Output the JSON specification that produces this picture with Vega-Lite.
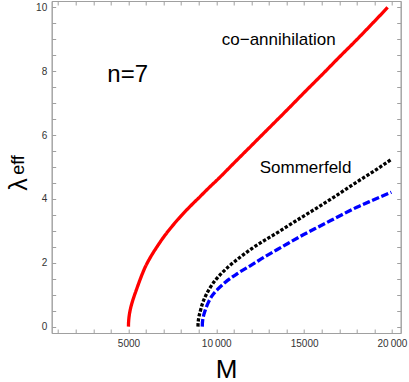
{
  "$schema": "https://vega.github.io/schema/vega-lite/v6.json",
  "width": 349,
  "height": 332,
  "autosize": {"type": "none"},
  "padding": {"left": 51.7, "top": 1, "right": 8.3, "bottom": 49},
  "config": {
    "font": "Liberation Sans",
    "view": {"stroke": "#a0a0a0", "strokeWidth": 1},
    "axis": {
      "domainColor": "#a0a0a0",
      "tickColor": "#a0a0a0",
      "labelColor": "#333333",
      "labelFont": "Liberation Sans",
      "labelFontSize": 10,
      "titleFont": "Liberation Sans",
      "titleColor": "#000000",
      "titleFontWeight": "normal",
      "grid": false,
      "labelOverlap": false,
      "labelFlush": false,
      "tickSize": -4
    }
  },
  "datasets": {
    "curves": [
      {"series": "co", "M": 5000, "lam": 0},
      {"series": "co", "M": 5003, "lam": 0.09},
      {"series": "co", "M": 5010, "lam": 0.16},
      {"series": "co", "M": 5025, "lam": 0.26},
      {"series": "co", "M": 5050, "lam": 0.37},
      {"series": "co", "M": 5085, "lam": 0.48},
      {"series": "co", "M": 5120, "lam": 0.57},
      {"series": "co", "M": 5200, "lam": 0.74},
      {"series": "co", "M": 5285, "lam": 0.89},
      {"series": "co", "M": 5450, "lam": 1.15},
      {"series": "co", "M": 5667, "lam": 1.48},
      {"series": "co", "M": 5950, "lam": 1.86},
      {"series": "co", "M": 6238, "lam": 2.16},
      {"series": "co", "M": 6600, "lam": 2.48},
      {"series": "co", "M": 6997, "lam": 2.8},
      {"series": "co", "M": 7450, "lam": 3.12},
      {"series": "co", "M": 7949, "lam": 3.44},
      {"series": "co", "M": 8500, "lam": 3.76},
      {"series": "co", "M": 9090, "lam": 4.08},
      {"series": "co", "M": 9564, "lam": 4.34},
      {"series": "co", "M": 10134, "lam": 4.64},
      {"series": "co", "M": 11000, "lam": 5.12},
      {"series": "co", "M": 12000, "lam": 5.67},
      {"series": "co", "M": 13000, "lam": 6.22},
      {"series": "co", "M": 14000, "lam": 6.77},
      {"series": "co", "M": 15000, "lam": 7.33},
      {"series": "co", "M": 16000, "lam": 7.88},
      {"series": "co", "M": 17000, "lam": 8.44},
      {"series": "co", "M": 18000, "lam": 8.99},
      {"series": "co", "M": 19000, "lam": 9.56},
      {"series": "co", "M": 19758, "lam": 10.0},
      {"series": "somA", "M": 8959, "lam": 0},
      {"series": "somA", "M": 8962, "lam": 0.08},
      {"series": "somA", "M": 8975, "lam": 0.17},
      {"series": "somA", "M": 9010, "lam": 0.3},
      {"series": "somA", "M": 9090, "lam": 0.48},
      {"series": "somA", "M": 9200, "lam": 0.7},
      {"series": "somA", "M": 9375, "lam": 0.94},
      {"series": "somA", "M": 9650, "lam": 1.22},
      {"series": "somA", "M": 9946, "lam": 1.45},
      {"series": "somA", "M": 10300, "lam": 1.67},
      {"series": "somA", "M": 10704, "lam": 1.88},
      {"series": "somA", "M": 11300, "lam": 2.15},
      {"series": "somA", "M": 12039, "lam": 2.45},
      {"series": "somA", "M": 12800, "lam": 2.72},
      {"series": "somA", "M": 13556, "lam": 2.97},
      {"series": "somA", "M": 14500, "lam": 3.3},
      {"series": "somA", "M": 15500, "lam": 3.64},
      {"series": "somA", "M": 16791, "lam": 4.09},
      {"series": "somA", "M": 18000, "lam": 4.53},
      {"series": "somA", "M": 19000, "lam": 4.88},
      {"series": "somA", "M": 19968, "lam": 5.24},
      {"series": "somB", "M": 9204, "lam": 0},
      {"series": "somB", "M": 9207, "lam": 0.08},
      {"series": "somB", "M": 9220, "lam": 0.17},
      {"series": "somB", "M": 9260, "lam": 0.3},
      {"series": "somB", "M": 9375, "lam": 0.52},
      {"series": "somB", "M": 9550, "lam": 0.76},
      {"series": "somB", "M": 9757, "lam": 0.96},
      {"series": "somB", "M": 10100, "lam": 1.18},
      {"series": "somB", "M": 10516, "lam": 1.39},
      {"series": "somB", "M": 11200, "lam": 1.66},
      {"series": "somB", "M": 12039, "lam": 1.94},
      {"series": "somB", "M": 12800, "lam": 2.2},
      {"series": "somB", "M": 13750, "lam": 2.5},
      {"series": "somB", "M": 14800, "lam": 2.83},
      {"series": "somB", "M": 15800, "lam": 3.12},
      {"series": "somB", "M": 16791, "lam": 3.4},
      {"series": "somB", "M": 18000, "lam": 3.74},
      {"series": "somB", "M": 19000, "lam": 3.98},
      {"series": "somB", "M": 19968, "lam": 4.21}
    ],
    "labels": [
      {"text": "n=7", "M": 4954, "lam": 7.67},
      {"text": "co−annihilation", "M": 13556, "lam": 8.82},
      {"text": "Sommerfeld", "M": 15080, "lam": 4.8}
    ],
    "frame": [
      {"M": 630, "lam": -0.2},
      {"M": 20500, "lam": 10.2}
    ]
  },
  "layer": [
    {
      "data": {"name": "curves"},
      "mark": {"type": "line", "strokeWidth": 3.3, "clip": true, "strokeCap": "butt", "interpolate": "monotone"},
      "encoding": {
        "x": {
          "field": "M", "type": "quantitative",
          "scale": {"domain": [630, 20500], "nice": false, "zero": false},
          "axis": {
            "orient": "bottom",
            "values": [1000, 2000, 3000, 4000, 5000, 6000, 7000, 8000, 9000, 10000, 11000, 12000, 13000, 14000, 15000, 16000, 17000, 18000, 19000, 20000],
            "labelExpr": "datum.value == 5000 ? '5000' : datum.value == 10000 ? '10\u2009000' : datum.value == 15000 ? '15000' : datum.value == 20000 ? '20\u2009000' : ''",
            "labelPadding": 9,
            "title": "M",
            "titleFontSize": 26,
            "titleX": 174.5,
            "titleY": 44,
            "titleAlign": "center",
            "titleBaseline": "alphabetic"
          }
        },
        "y": {
          "field": "lam", "type": "quantitative",
          "scale": {"domain": [-0.2, 10.2], "nice": false, "zero": false},
          "axis": {
            "orient": "left",
            "values": [0, 0.5, 1, 1.5, 2, 2.5, 3, 3.5, 4, 4.5, 5, 5.5, 6, 6.5, 7, 7.5, 8, 8.5, 9, 9.5, 10],
            "labelExpr": "datum.value % 2 === 0 ? format(datum.value, 'd') : ''",
            "labelPadding": 9,
            "title": "λ",
            "titleFontSize": 25,
            "titleAngle": 270,
            "titleX": -25,
            "titleY": 183,
            "titleAlign": "center",
            "titleBaseline": "alphabetic"
          }
        },
        "color": {
          "field": "series", "type": "nominal",
          "scale": {"domain": ["co", "somA", "somB"], "range": ["#ff0000", "#000000", "#0000ff"]},
          "legend": null
        },
        "strokeDash": {
          "field": "series", "type": "nominal",
          "scale": {"domain": ["co", "somA", "somB"], "range": [[1, 0], [3.3, 1.8], [7.5, 2.5]]},
          "legend": null
        }
      }
    },
    {
      "data": {"name": "labels"},
      "mark": {"type": "text", "align": "center", "baseline": "alphabetic", "font": "Liberation Sans", "color": "#000000"},
      "encoding": {
        "x": {"field": "M", "type": "quantitative", "axis": null},
        "y": {"field": "lam", "type": "quantitative", "axis": null},
        "text": {"field": "text"},
        "size": {
          "field": "text", "type": "nominal",
          "scale": {"type": "ordinal", "domain": ["n=7", "co−annihilation", "Sommerfeld"], "range": [24, 17, 17]},
          "legend": null
        }
      }
    },
    {
      "data": {"name": "frame"},
      "mark": {"type": "point", "opacity": 0},
      "encoding": {
        "x": {
          "field": "M", "type": "quantitative",
          "axis": {
            "orient": "top",
            "values": [1000, 2000, 3000, 4000, 5000, 6000, 7000, 8000, 9000, 10000, 11000, 12000, 13000, 14000, 15000, 16000, 17000, 18000, 19000, 20000],
            "labels": false,
            "title": null
          }
        },
        "y": {
          "field": "lam", "type": "quantitative",
          "axis": {
            "orient": "right",
            "values": [0, 0.5, 1, 1.5, 2, 2.5, 3, 3.5, 4, 4.5, 5, 5.5, 6, 6.5, 7, 7.5, 8, 8.5, 9, 9.5, 10],
            "labels": false,
            "title": "eff",
            "titleFontSize": 18,
            "titleAngle": 270,
            "titleX": -377,
            "titleY": 163.5,
            "titleAlign": "center",
            "titleBaseline": "alphabetic"
          }
        }
      }
    }
  ],
  "resolve": {"axis": {"x": "independent", "y": "independent"}}
}
